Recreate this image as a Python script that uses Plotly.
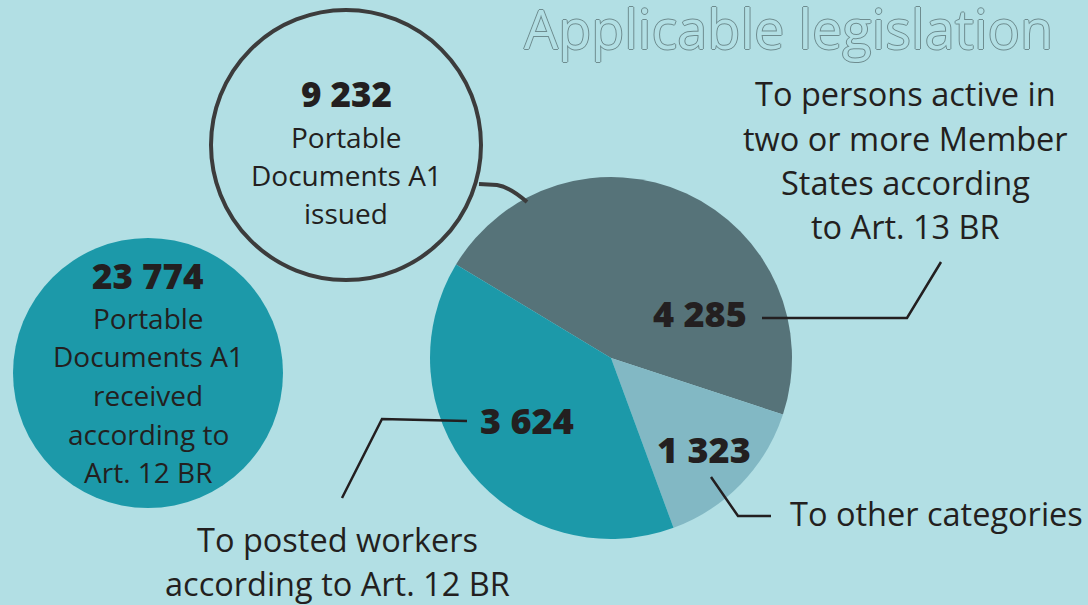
import plotly.graph_objects as go

W, H = 1088, 605

# ---- data ----
slice_labels = ["Art. 13 BR", "Other categories", "Posted workers (Art. 12 BR)"]
slice_values = [4285, 1323, 3624]
slice_value_text = ["4 285", "1 323", "3 624"]
issued_total_text = "9 232"
received_total_text = "23 774"
issued_lines = ["Portable", "Documents A1", "issued"]
received_lines = ["Portable", "Documents A1", "received", "according to", "Art. 12 BR"]
label_art13 = ["To persons active in", "two or more Member", "States according", "to Art. 13 BR"]
label_posted = ["To posted workers", "according to Art. 12 BR"]
label_other = ["To other categories"]
title_text = "Applicable legislation"

# ---- style ----
BG = "#b2dfe4"
DARK = "#567379"
TEAL = "#1c99a9"
LIGHT = "#82b8c4"
INK = "#231f20"
RING = "#3c3c3c"
FONT = "Open Sans"


def px(x):
    return x / W


def py(y):
    return 1 - y / H


fig = go.Figure()

cx, cy, r = 611, 358, 181
fig.add_trace(go.Pie(
    labels=slice_labels,
    values=slice_values,
    marker=dict(colors=[DARK, LIGHT, TEAL], line=dict(width=0)),
    sort=False,
    direction="clockwise",
    rotation=-58.9,
    textinfo="none",
    hoverinfo="label+value",
    showlegend=False,
    domain=dict(x=[px(cx - r), px(cx + r)], y=[py(cy + r), py(cy - r)]),
))

shapes = []
# received circle (filled)
shapes.append(dict(type="circle", xref="paper", yref="paper",
                   x0=px(148 - 135), x1=px(148 + 135), y0=py(373 + 135), y1=py(373 - 135),
                   fillcolor=TEAL, line=dict(width=0), layer="below"))
# issued circle (outlined)
shapes.append(dict(type="circle", xref="paper", yref="paper",
                   x0=px(346 - 135), x1=px(346 + 135), y0=py(145 + 135), y1=py(145 - 135),
                   fillcolor="rgba(0,0,0,0)", line=dict(width=4, color=RING)))


def path(pts):
    s = "M %f,%f" % (px(pts[0][0]), py(pts[0][1]))
    for p in pts[1:]:
        s += " L %f,%f" % (px(p[0]), py(p[1]))
    return s


# connector from issued circle to pie (curved)
shapes.append(dict(type="path", xref="paper", yref="paper",
                   path="M %f,%f L %f,%f Q %f,%f %f,%f" % (
                       px(479), py(184), px(497), py(185), px(510), py(187), px(527), py(202)),
                   line=dict(width=4, color=RING)))
# leader lines
for pts in [
    [(762, 318), (907, 318), (941, 262)],
    [(467, 421), (382, 419), (342, 498)],
    [(711, 477), (738, 516), (771, 516)],
]:
    shapes.append(dict(type="path", xref="paper", yref="paper", path=path(pts),
                       line=dict(width=2.5, color=INK)))

ann = []


def text(x, y, t, size, bold=False, xanchor="center", color=INK):
    ann.append(dict(x=px(x), y=py(y), xref="paper", yref="paper", text=t,
                    showarrow=False, xanchor=xanchor, yanchor="middle",
                    font=dict(family=FONT, size=size, color=color,
                              weight=800 if bold else 400)))


# title with outline effect
sh = "#6e8c8f"
ann.append(dict(x=px(788), y=py(28), xref="paper", yref="paper", text=title_text,
                showarrow=False, xanchor="center", yanchor="middle",
                font=dict(family=FONT, size=54, color=BG,
                          shadow="1px 0 0 %s, -1px 0 0 %s, 0 1px 0 %s, 0 -1px 0 %s" % (sh, sh, sh, sh))))

# pie values
text(700, 313, slice_value_text[0], 36, bold=True)
text(704, 449, slice_value_text[1], 36, bold=True)
text(527, 420, slice_value_text[2], 36, bold=True)

# issued circle text
text(346, 94, issued_total_text, 35, bold=True)
for t, y in zip(issued_lines, [137, 175, 213]):
    text(346, y, t, 28)

# received circle text
text(148, 275, received_total_text, 35, bold=True)
for t, y in zip(received_lines, [318, 356, 395, 434, 472]):
    text(148, y, t, 28)

# side labels
for t, y in zip(label_art13, [93, 138, 182, 226]):
    text(905, y, t, 32.5)
for t, y in zip(label_posted, [539, 583]):
    text(337, y, t, 32.5)
text(788, 513, label_other[0], 32.5, xanchor="left")

fig.update_layout(
    width=W, height=H, autosize=False,
    margin=dict(l=0, r=0, t=0, b=0),
    paper_bgcolor=BG, plot_bgcolor=BG,
    shapes=shapes, annotations=ann,
    showlegend=False,
)

fig.write_html("out.html")
